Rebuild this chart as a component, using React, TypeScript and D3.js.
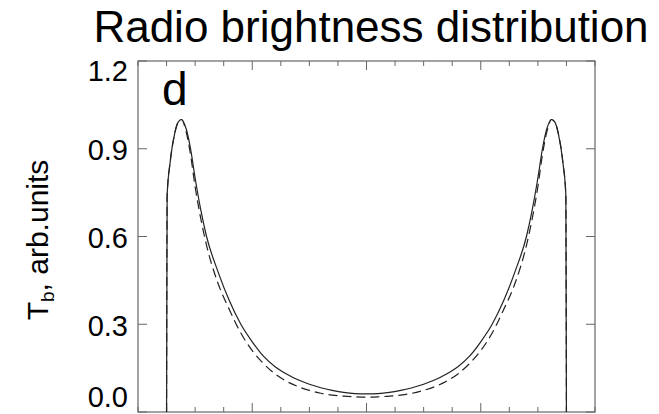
import React from 'react'
import * as d3 from 'd3'

const W = 659
const H = 414
const margin = {top: 61, right: 64, bottom: 2, left: 138}

// position across the disk (arb. units, limb at +-1.75)
const xs = [
    -1.75, -1.745, -1.72, -1.68, -1.65, -1.62, -1.58, -1.54, -1.50, -1.45, -1.40,
    -1.30, -1.20, -1.10, -1.00, -0.90, -0.80, -0.70, -0.60, -0.50, -0.40, -0.30,
    -0.20, -0.10, 0,
    0.10, 0.20, 0.30, 0.40, 0.50, 0.60, 0.70, 0.80, 0.90, 1.00, 1.10, 1.20, 1.30,
    1.40, 1.45, 1.50, 1.54, 1.58, 1.62, 1.65, 1.68, 1.72, 1.745, 1.75,
]

const solidTb = [
    0, 0.74, 0.85, 0.95, 0.99, 1.0, 0.97, 0.90, 0.80, 0.69, 0.60,
    0.48, 0.38, 0.30, 0.24, 0.19, 0.155, 0.13, 0.11, 0.095, 0.083, 0.074,
    0.067, 0.063, 0.062,
    0.063, 0.067, 0.074, 0.083, 0.095, 0.11, 0.13, 0.155, 0.19, 0.24, 0.30, 0.38, 0.48,
    0.60, 0.69, 0.80, 0.90, 0.97, 1.0, 0.99, 0.95, 0.85, 0.74, 0,
]

const dashedTb = [
    0, 0.74, 0.85, 0.95, 0.99, 1.0, 0.96, 0.88, 0.77, 0.66, 0.57,
    0.44, 0.35, 0.27, 0.21, 0.165, 0.13, 0.105, 0.087, 0.074, 0.064, 0.058,
    0.054, 0.052, 0.051,
    0.052, 0.054, 0.058, 0.064, 0.074, 0.087, 0.105, 0.13, 0.165, 0.21, 0.27, 0.35, 0.44,
    0.57, 0.66, 0.77, 0.88, 0.96, 1.0, 0.99, 0.95, 0.85, 0.74, 0,
]

const yTicks = [0.0, 0.3, 0.6, 0.9, 1.2]
const xMajor = [-1, 0, 1]
const xMinor = d3.range(-2, 2.001, 0.25)

const title = 'Radio brightness distribution'
const panel = 'd'

const font = 'Liberation Sans, Arial, Helvetica, sans-serif'

export default function App() {
    const graphWidth = W - margin.left - margin.right
    const graphHeight = H - margin.top - margin.bottom

    const x = d3.scaleLinear().domain([-2, 2]).range([0, graphWidth])
    const y = d3.scaleLinear().domain([0, 1.2]).range([graphHeight, 0])

    const line = d3.line<number>()
        .x((d, i) => x(xs[i]))
        .y(d => y(d))
        .curve(d3.curveMonotoneX)

    const frame = '#666'

    return (
        <svg width={W} height={H} style={{position: 'absolute', left: 0, top: 0, background: '#fff'}}>
            <text x={371} y={42} fontFamily={font} fontSize={44} textAnchor="middle" fill="#000">{title}</text>

            <g transform={`translate(${margin.left}, ${margin.top})`}>
                <rect x={0} y={0} width={graphWidth} height={graphHeight} fill="none" stroke={frame} strokeWidth={1.2} />

                {/* y ticks, left and right */}
                {yTicks.map(t => (
                    <g key={'y' + t}>
                        <line x1={0} x2={9} y1={y(t)} y2={y(t)} stroke={frame} />
                        <line x1={graphWidth - 9} x2={graphWidth} y1={y(t)} y2={y(t)} stroke={frame} />
                        <text x={-10} y={Math.min(Math.max(y(t) + 4, 12), graphHeight - 13)}
                              dominantBaseline="middle" textAnchor="end"
                              fontFamily={font} fontSize={29} fill="#000">{t.toFixed(1)}</text>
                    </g>
                ))}

                {/* x ticks, top and bottom (no labels) */}
                {xMinor.map(t => {
                    const len = xMajor.includes(t) ? 9 : 5
                    return (
                        <g key={'x' + t}>
                            <line x1={x(t)} x2={x(t)} y1={graphHeight} y2={graphHeight - len} stroke={frame} />
                            <line x1={x(t)} x2={x(t)} y1={0} y2={len} stroke={frame} />
                        </g>
                    )
                })}

                <path d={line(dashedTb) || ''} fill="none" stroke="#222" strokeWidth={1.2} strokeDasharray="9,5" />
                <path d={line(solidTb) || ''} fill="none" stroke="#222" strokeWidth={1.2} />

                <text x={24} y={44} fontFamily={font} fontSize={46} fill="#000">{panel}</text>
            </g>

            <text transform={`translate(48, 240) rotate(-90)`} textAnchor="middle"
                  fontFamily={font} fontSize={30} fill="#000">
                T<tspan fontSize={19} dy={6}>b</tspan><tspan dy={-6}>, arb.units</tspan>
            </text>
        </svg>
    )
}
